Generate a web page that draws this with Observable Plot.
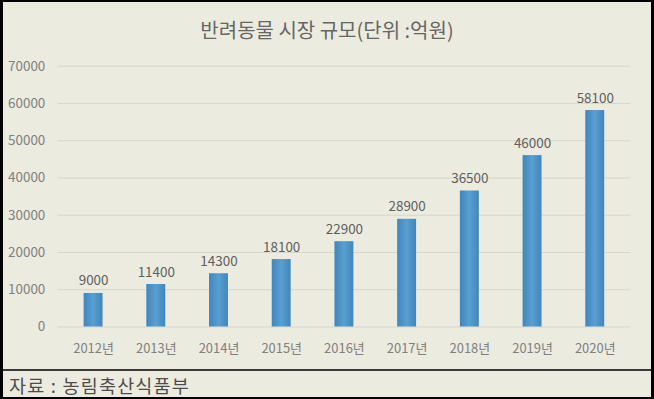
<!DOCTYPE html>
<html>
<head>
<meta charset="utf-8">
<script src="https://cdn.jsdelivr.net/npm/d3@7"></script>
<script src="https://cdn.jsdelivr.net/npm/@observablehq/plot@0.6"></script>
<style>
  html, body { margin: 0; padding: 0; background: #000; }
  #frame {
    position: relative; width: 654px; height: 399px; box-sizing: border-box;
    background: #ecebe0; border-left: 3px solid #000; border-right: 3px solid #000;
    border-top: 2px solid #000; border-bottom: 2px solid #000; overflow: hidden;
    font-family: "Noto Sans CJK KR", "Noto Sans", sans-serif;
  }
  #title {
    position: absolute; left: -3px; width: 654px; top: 15px; text-align: center;
    font-size: 20px; color: #666666; line-height: 26px;
  }
  #chart { position: absolute; left: -3px; top: -2px; }
  #sep { position: absolute; left: 0; right: 0; top: 367px; height: 2px; background: #3a3a3a; }
  #caption {
    position: absolute; left: 6px; top: 371px; font-size: 18.5px; color: #4d4d4d; line-height: 24px;
    letter-spacing: 1.2px;
  }
</style>
</head>
<body>
<div id="frame">
  <div id="title">반려동물 시장 규모(단위 :억원)</div>
  <div id="chart"></div>
  <div id="sep"></div>
  <div id="caption">자료 : 농림축산식품부</div>
</div>
<script>
const years = ["2012년","2013년","2014년","2015년","2016년","2017년","2018년","2019년","2020년"];
const values = [9000, 11400, 14300, 18100, 22900, 28900, 36500, 46000, 58100];
const yTicks = [0, 10000, 20000, 30000, 40000, 50000, 60000, 70000];

const data = years.map((year, i) => ({year, value: values[i]}));

const chart = Plot.plot({
  width: 654,
  height: 370,
  marginLeft: 58,
  marginRight: 21,
  marginTop: 66,
  marginBottom: 42,
  style: {background: "transparent", fontFamily: "'Noto Sans CJK KR', 'Noto Sans', sans-serif"},
  x: {domain: years, padding: 0, label: null},
  y: {domain: [0, 70000], label: null},
  marks: [
    Plot.ruleY(yTicks, {stroke: "#d6d6ca", strokeWidth: 1}),
    Plot.axisY(yTicks, {tickSize: 0, tickPadding: 13, fontSize: 13.5, fill: "#808080", tickFormat: d => String(d), label: null}),
    Plot.axisX({tickSize: 0, tickPadding: 17, fontSize: 13, fill: "#808080", label: null}),
    Plot.barY(data, {x: "year", y: "value", fill: "url(#barGrad)", insetLeft: 22, insetRight: 22}),
    Plot.text(data, {x: "year", y: "value", text: d => String(d.value), dy: -8, lineAnchor: "bottom", fontSize: 13.5, fill: "#5f5f5f"})
  ]
});

const ns = "http://www.w3.org/2000/svg";
const defs = document.createElementNS(ns, "defs");
defs.innerHTML = '<linearGradient id="barGrad" x1="0" x2="1" y1="0" y2="0">' +
  '<stop offset="0" stop-color="#3f86bd"/><stop offset="0.5" stop-color="#5a9fd0"/><stop offset="1" stop-color="#3f86bd"/></linearGradient>';
chart.insertBefore(defs, chart.firstChild);
document.getElementById("chart").appendChild(chart);
</script>
</body>
</html>
